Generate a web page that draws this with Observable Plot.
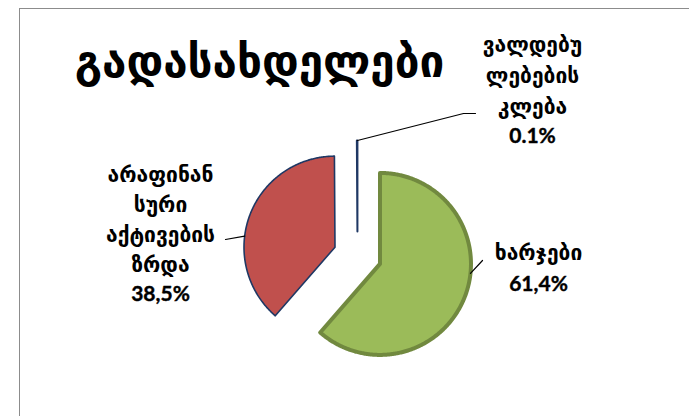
<!DOCTYPE html>
<html>
<head>
<meta charset="utf-8">
<script src="https://cdn.jsdelivr.net/npm/d3@7"></script>
<script src="https://cdn.jsdelivr.net/npm/@observablehq/plot@0.6"></script>
<style>
  html, body { margin: 0; padding: 0; background: #fff; }
  #wrap { position: relative; width: 689px; height: 416px; overflow: hidden; }
  #frame { position: absolute; left: 19px; top: 8px; width: 720px; height: 440px; border: 1px solid #8c8c8c; box-sizing: border-box; }
  #chart { position: absolute; left: 0; top: 0; }
</style>
</head>
<body>
<div id="wrap"><div id="frame"></div><div id="chart"></div></div>
<script>
// ---- data ----
const title = "გადასახდელები";
const categories = ["ხარჯები", "არაფინანსური აქტივების ზრდა", "ვალდებულებების კლება"];
const values = [61.4, 38.5, 0.1];
const labelLines = ["ხარჯები", "არაფინან\nსური\nაქტივების\nზრდა", "ვალდებუ\nლებების\nკლება"];
const percentLabels = ["61,4%", "38,5%", "0.1%"];
const fills = ["#9BBB59", "#C0504D", "#4F81BD"];
const strokes = ["#71893F", "#1F3864", "#1F3864"];
const strokeWidths = [4, 1.6, 2];

// ---- layout ----
const W = 689, H = 416;
const cx = 357, cy = 255, R = 91, explode = 24;
const labelPos = [[538, 253], [160, 175], [532, 45]];   // centre of first text line
const pctPos = [[538, 284], [160, 294], [532, 136]];
const lineGap = [30, 30, 31];
const leaderAngleDeg = [96, 277, 0];
const leaderEnds = [[[482, 260]], [[225, 239]], [[463, 113], [475, 113]]];

const arcs = d3.pie().sort(null).startAngle(0).endAngle(2 * Math.PI)(values);

const slicePts = [];
const sliceCenters = [];
arcs.forEach((a, i) => {
  const mid = (a.startAngle + a.endAngle) / 2;
  const ox = cx + explode * Math.sin(mid);
  const oy = cy - explode * Math.cos(mid);
  sliceCenters.push([ox, oy]);
  slicePts.push({k: i, x: ox, y: oy});
  const n = Math.max(2, Math.ceil((a.endAngle - a.startAngle) / 0.01));
  for (let j = 0; j <= n; j++) {
    const t = a.startAngle + (a.endAngle - a.startAngle) * j / n;
    slicePts.push({k: i, x: ox + R * Math.sin(t), y: oy - R * Math.cos(t)});
  }
});

const leaderPts = [];
arcs.forEach((a, i) => {
  const [ox, oy] = sliceCenters[i];
  const t = leaderAngleDeg[i] * Math.PI / 180;
  leaderPts.push({k: i, x: ox + R * Math.sin(t), y: oy - R * Math.cos(t)});
  leaderEnds[i].forEach(([x, y]) => leaderPts.push({k: i, x, y}));
});

// one row per text line of each category label
const nameRows = [];
categories.forEach((c, i) => {
  labelLines[i].split("\n").forEach((s, j) => {
    nameRows.push({i, x: labelPos[i][0], y: labelPos[i][1] + j * lineGap[i], text: s});
  });
});
const pctRows = categories.map((c, i) => ({i, x: pctPos[i][0], y: pctPos[i][1], text: percentLabels[i]}));

const geoFont = "'DejaVu Sans', sans-serif";
const numFont = "Lato, 'DejaVu Sans', sans-serif";

const marks = [];
[0, 1, 2].forEach(i => {
  marks.push(Plot.line(slicePts.filter(d => d.k === i), {
    x: "x", y: "y", curve: "linear-closed",
    fill: fills[i], stroke: strokes[i], strokeWidth: strokeWidths[i], strokeLinejoin: "round"
  }));
});
marks.push(Plot.line(leaderPts, {x: "x", y: "y", z: "k", stroke: "#000", strokeWidth: 1.2}));
marks.push(Plot.text(nameRows, {x: "x", y: "y", text: "text", textAnchor: "middle", lineAnchor: "middle", fontSize: 21, fontWeight: "bold", fill: "#000", fontFamily: geoFont}));
marks.push(Plot.text(pctRows, {x: "x", y: "y", text: "text", textAnchor: "middle", lineAnchor: "middle", fontSize: 21, fontWeight: "bold", fill: "#000", fontFamily: numFont, stroke: "#000", strokeWidth: 0.4}));
marks.push(Plot.text([title], {x: () => 259, y: () => 62, text: d => d, textAnchor: "middle", lineAnchor: "middle", fontSize: 44, fontWeight: "bold", fill: "#000", fontFamily: geoFont}));

const chart = Plot.plot({
  width: W, height: H,
  margin: 0,
  x: {domain: [0, W], range: [0, W], axis: null},
  y: {domain: [0, H], range: [0, H], axis: null},
  style: {fontFamily: geoFont, background: "transparent", overflow: "visible"},
  marks
});
document.getElementById("chart").appendChild(chart);
</script>
</body>
</html>
